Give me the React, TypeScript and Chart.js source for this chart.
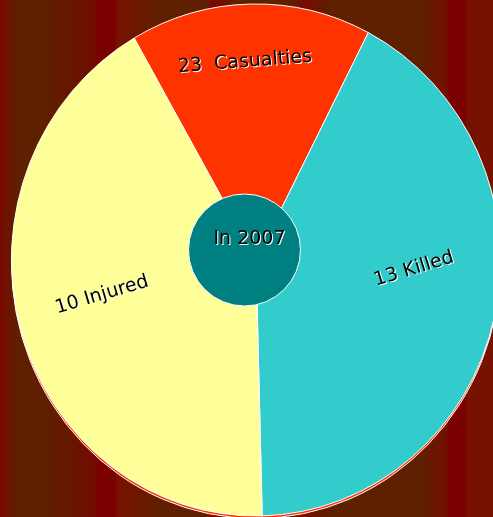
import React, { useEffect, useRef } from 'react';
import { Chart, registerables } from 'chart.js';

Chart.register(...registerables);

// ---- data ----
const categories = ['Casualties', 'Killed', 'Injured'];
const counts = [23, 13, 10];
// visible share of the pie (percent) for each slice
const sliceShares = [15.9, 42.0, 42.1];
const sliceLabels = ['23  Casualties', '13 Killed', '10 Injured'];
const centerLabel = 'In 2007';

const W = 493;
const H = 517;
const CX = 256;
const CY = 260;
const RY = 256;
const RX = 244.5;

const sliceColors = ['#FF3300', '#33CCCC', '#FFFF99'];
const labelPlaces: { x: number; y: number; rot: number }[] = [
  { x: 245, y: 62, rot: -4.5 },
  { x: 414, y: 269, rot: -17 },
  { x: 102, y: 295, rot: -16.5 },
];

const bgStops: [number, string][] = [
  [0, '#7a0800'], [8, '#6c1400'], [18, '#5e2000'], [45, '#5e2000'],
  [92, '#700e00'], [100, '#7b0000'], [115, '#7b0000'], [117, '#781200'],
  [165, '#5e2000'], [205, '#5e2000'], [212, '#780800'], [220, '#700e00'],
  [235, '#5e2000'], [292, '#5e2000'], [302, '#760a00'], [316, '#6e1400'],
  [330, '#5e2000'], [420, '#5e2000'], [446, '#741000'], [450, '#7b0000'],
  [465, '#7b0000'], [467, '#781200'], [493, '#771200'],
];

export default function App() {
  const ref = useRef<HTMLCanvasElement>(null);

  useEffect(() => {
    document.body.style.margin = '0';
    const canvas = ref.current!;

    const bgPlugin = {
      id: 'bgStripes',
      beforeDraw(chart: any) {
        const ctx = chart.ctx as CanvasRenderingContext2D;
        const g = ctx.createLinearGradient(0, 0, W, 0);
        bgStops.forEach(([x, c]) => g.addColorStop(Math.min(1, x / W), c));
        ctx.save();
        ctx.fillStyle = g;
        ctx.fillRect(0, 0, W, H);
        ctx.restore();
      },
    };

    const ellipsePlugin = {
      id: 'ellipse',
      beforeDatasetsDraw(chart: any) {
        const ctx = chart.ctx as CanvasRenderingContext2D;
        // 3D rim under the pie
        ctx.save();
        ctx.beginPath();
        ctx.ellipse(CX, CY + 3, RX, RY - 0.5, 0, 0, Math.PI * 2);
        ctx.fillStyle = '#FF3300';
        ctx.fill();
        ctx.lineWidth = 1;
        ctx.strokeStyle = '#ffffff';
        ctx.stroke();
        ctx.restore();
        ctx.save();
        ctx.translate(CX, 0);
        ctx.scale(RX / RY, 1);
        ctx.translate(-CX, 0);
      },
      afterDatasetsDraw(chart: any) {
        const ctx = chart.ctx as CanvasRenderingContext2D;
        ctx.restore();
      },
      afterDraw(chart: any) {
        const ctx = chart.ctx as CanvasRenderingContext2D;
        // center disc
        ctx.save();
        ctx.beginPath();
        ctx.arc(244.5, 250, 56, 0, Math.PI * 2);
        ctx.fillStyle = '#008080';
        ctx.fill();
        ctx.lineWidth = 1;
        ctx.strokeStyle = '#ffffff';
        ctx.stroke();
        ctx.restore();

        const drawText = (t: string, x: number, y: number, rot: number) => {
          ctx.save();
          ctx.translate(x, y);
          ctx.rotate((rot * Math.PI) / 180);
          ctx.font = '19px "DejaVu Sans"';
          ctx.textAlign = 'center';
          ctx.textBaseline = 'middle';
          ctx.fillStyle = '#ffffff';
          ctx.fillText(t, 1, 1);
          ctx.fillStyle = '#000000';
          ctx.fillText(t, 0, 0);
          ctx.restore();
        };
        sliceLabels.forEach((t, i) => {
          const p = labelPlaces[i];
          drawText(t, p.x, p.y, p.rot);
        });
        drawText(centerLabel, 249.5, 239, 0);
      },
    };

    const chart = new Chart(canvas, {
      type: 'pie',
      data: {
        labels: categories,
        datasets: [
          {
            data: sliceShares,
            backgroundColor: sliceColors,
            borderColor: '#ffffff',
            borderWidth: 1,
            radius: RY,
            clip: false,
          } as any,
        ],
      },
      options: {
        responsive: false,
        devicePixelRatio: 1,
        animation: false,
        events: [],
        rotation: -29.9,
        layout: { padding: { left: 19, right: 0, top: 3, bottom: 0 } },
        plugins: {
          legend: { display: false },
          tooltip: { enabled: false },
        },
      },
      plugins: [bgPlugin, ellipsePlugin],
    });
    void counts;
    return () => chart.destroy();
  }, []);

  return (
    <div style={{ width: W, height: H, overflow: 'hidden' }}>
      <canvas ref={ref} width={W} height={H} style={{ display: 'block', width: W, height: H }} />
    </div>
  );
}
